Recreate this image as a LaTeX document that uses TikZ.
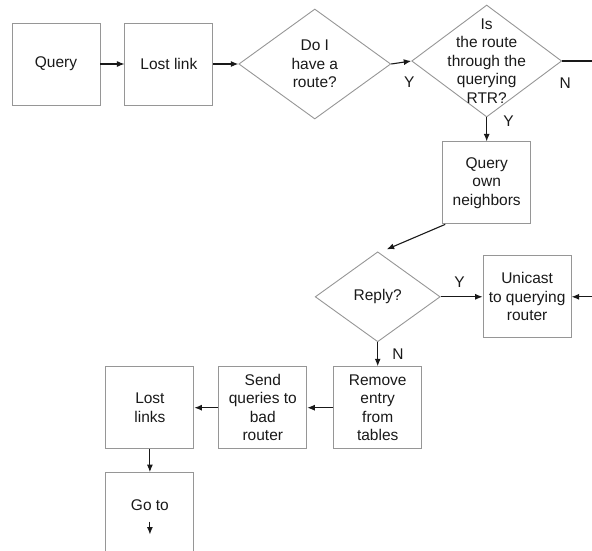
\documentclass[tikz,border=0pt]{standalone}
\usepackage{fontspec}
\setmainfont{Liberation Sans}
\usetikzlibrary{
  arrows.meta,
  positioning,
  shapes.geometric
}
\definecolor{FrameGray}{RGB}{150,150,150}
\definecolor{InkBlack}{RGB}{25,25,25}
\newcommand{\flowfont}{\fontsize{15.5}{18.5}\selectfont}
\tikzset{
  stepbox/.style={draw=FrameGray,line width=0.9pt,minimum width=88pt,minimum height=82pt,align=center,inner sep=2pt,text=InkBlack,font=\flowfont},
  decision/.style={diamond,draw=FrameGray,line width=0.9pt,align=center,inner xsep=-15pt,inner ysep=-25pt,text=InkBlack,font=\flowfont},
  flowarrow/.style={-{Latex[length=7.5pt,width=6pt]},line width=1.1pt,draw=InkBlack},
  flowline/.style={line width=1.1pt,draw=InkBlack},
  answer/.style={inner sep=0pt,text=InkBlack,font=\flowfont}
}

\begin{document}
\begin{tikzpicture}[x=1pt,y=-1pt]
\useasboundingbox (0,0) rectangle (592,550);
\clip (0,0) rectangle (592,550);
\coordinate (rim) at (592,0);
% top row
\node[stepbox] (query) at (56,64) {Query};
\node[stepbox, right=24pt of query] (lostlink) {Lost link};
\node[decision, minimum width=152pt, minimum height=110pt, right=25pt of lostlink] (haveroute) {Do I\\have a\\route?};
\node[decision, minimum width=150pt, minimum height=112pt, right=20pt of haveroute, yshift=3pt] (viartr) {Is\\the route\\through the\\querying\\RTR?};
\node[stepbox, below=24pt of viartr] (askown) {Query\\own\\neighbors};
% middle
\node[decision, minimum width=125pt, minimum height=90pt, below=27pt of askown, xshift=-109pt] (reply) {Reply?};
\node[stepbox, right=42pt of reply] (unicast) {Unicast\\to querying\\router};
% bottom row
\node[stepbox, below=24pt of reply] (remove) {Remove\\entry\\from\\tables};
\node[stepbox, left=26pt of remove] (sendbad) {Send\\queries to\\bad\\router};
\node[stepbox, left=24pt of sendbad] (lostlinks) {Lost\\links};
\node[stepbox, below=23pt of lostlinks] (goto) {};
\node[answer, below=27pt of goto.north] (gotolbl) {Go to};
\coordinate (nexit) at (viartr.east -| rim);
\coordinate (rentry) at (unicast.east -| rim);
\coordinate (gotoa) at ([yshift=-11pt]gotolbl.south);
\coordinate (gotob) at ([yshift=-24pt]gotolbl.south);
\draw[flowarrow] (query) -- (lostlink);
\draw[flowarrow] (lostlink) -- (haveroute);
\draw[flowarrow] (haveroute.east) -- node[answer, pos=0.9, below=14.5pt] {Y} (viartr.west);
\draw[flowline] (viartr.east) -- node[answer, pos=0.1, below=16pt] {N} (nexit);
\draw[flowarrow] (viartr.south) -- node[answer, pos=0.15, right=16pt] {Y} (askown.north);
\draw[flowarrow] ([xshift=3pt]askown.south west) -- ([xshift=9pt,yshift=2pt]reply.north);
\draw[flowarrow] (reply.east) -- node[answer, pos=0.45, above=9pt] {Y} (unicast.west);
\draw[flowarrow] (rentry) -- (unicast.east);
\draw[flowarrow] (reply.south) -- node[answer, pos=0.5, right=14pt] {N} (remove.north);
\draw[flowarrow] (remove) -- (sendbad);
\draw[flowarrow] (sendbad) -- (lostlinks);
\draw[flowarrow] (lostlinks) -- (goto);
\draw[flowarrow] (gotoa) -- (gotob);
\end{tikzpicture}
\end{document}
